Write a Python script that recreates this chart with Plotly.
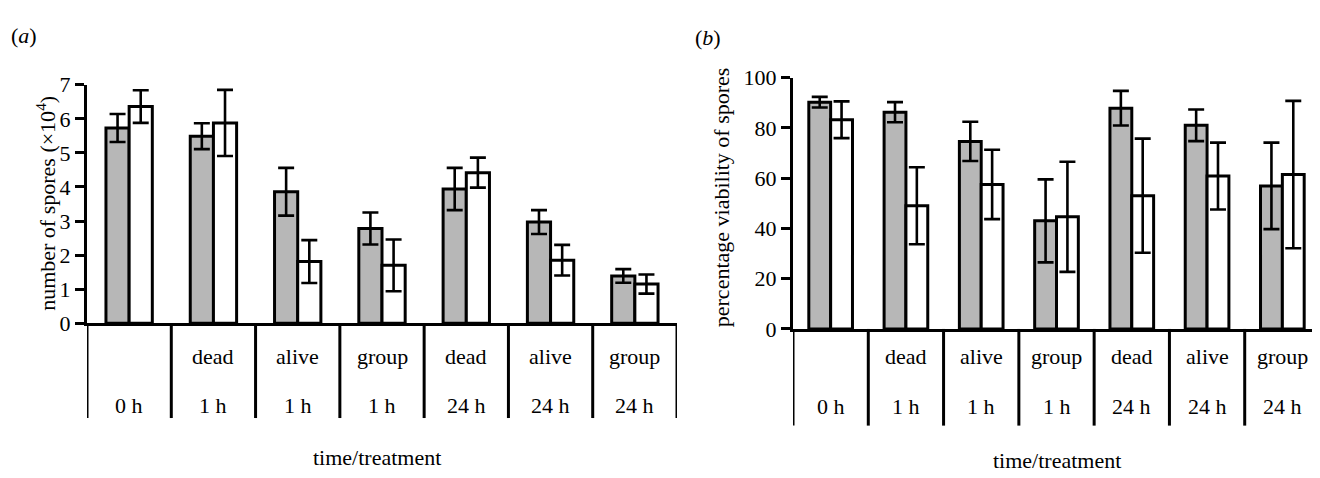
import plotly.graph_objects as go

# ---------------- data ----------------
cat_top = ["", "dead", "alive", "group", "dead", "alive", "group"]
cat_bottom = ["0 h", "1 h", "1 h", "1 h", "24 h", "24 h", "24 h"]

# panel (a): number of spores (x10^4)
spores_grey = [5.73, 5.49, 3.86, 2.78, 3.94, 2.97, 1.39]
spores_grey_err = [0.41, 0.38, 0.70, 0.47, 0.62, 0.35, 0.20]
spores_white = [6.36, 5.88, 1.81, 1.70, 4.42, 1.85, 1.15]
spores_white_err = [0.48, 0.97, 0.63, 0.76, 0.44, 0.45, 0.28]

# panel (b): percentage viability of spores
viab_grey = [90.2, 86.2, 74.6, 43.0, 87.8, 81.0, 56.9]
viab_grey_err = [2.1, 4.0, 7.8, 16.5, 6.9, 6.3, 17.2]
viab_white = [83.2, 49.0, 57.5, 44.6, 53.0, 60.8, 61.4]
viab_white_err = [7.3, 15.3, 13.8, 21.9, 22.7, 13.3, 29.3]

FONT = "Liberation Serif, Times New Roman, Times, serif"
FS = 22
W, H = 1320, 478
GREY = "#b7b7b7"
LW = 3

xpos = [i + 0.5 for i in range(len(cat_bottom))]

fig = go.Figure()


def add_pair(grey, grey_err, white, white_err, bw, xa, ya):
    fig.add_trace(go.Bar(
        x=xpos, y=grey, width=bw, offset=-bw, xaxis=xa, yaxis=ya,
        marker=dict(color=GREY, line=dict(color="black", width=LW)),
        error_y=dict(type="data", array=grey_err, color="black", thickness=2.6, width=8),
        showlegend=False))
    fig.add_trace(go.Bar(
        x=xpos, y=white, width=bw, offset=0, xaxis=xa, yaxis=ya,
        marker=dict(color="white", line=dict(color="black", width=LW)),
        error_y=dict(type="data", array=white_err, color="black", thickness=2.6, width=8),
        showlegend=False))


add_pair(spores_grey, spores_grey_err, spores_white, spores_white_err, 0.275, "x", "y")
add_pair(viab_grey, viab_grey_err, viab_white, viab_white_err, 0.29, "x2", "y2")

# panel geometry in pixels
L = dict(x0=79, x1=669, ybase=320, ytop=68.3, lines_bottom=420, row1=355, row2=407,
         xlabel=(369, 462), ytitle=(38, 194), panel=(16, 16))
R = dict(x0=785, x1=1312, ybase=326, ytop=60.7, lines_bottom=428, row1=355, row2=408,
         xlabel=(1049, 465), ytitle=(713, 187), panel=(700, 18))


def px(x):
    return x / W


def py(y):
    return (H - y) / H


line_common = dict(showgrid=False, zeroline=False, showline=True, linecolor="black",
                   linewidth=LW, tickcolor="black", tickwidth=LW)
tickfont = dict(family=FONT, size=FS, color="black")

fig.update_layout(
    width=W, height=H, margin=dict(l=0, r=0, t=0, b=0, pad=0),
    plot_bgcolor="white", paper_bgcolor="white", barmode="overlay",
    font=dict(family=FONT, size=FS, color="black"),
    xaxis=dict(domain=[px(L["x0"]), px(L["x1"])], range=[0, 7], showticklabels=False,
               ticks="", anchor="y", **line_common),
    yaxis=dict(domain=[py(L["ybase"]), py(L["ytop"])], range=[0, 7], dtick=1,
               ticks="outside", ticklen=9, anchor="x", tickfont=tickfont, **line_common),
    xaxis2=dict(domain=[px(R["x0"]), px(R["x1"])], range=[0, 7], showticklabels=False,
                ticks="", anchor="y2", **line_common),
    yaxis2=dict(domain=[py(R["ybase"]), py(R["ytop"])], range=[0, 100], dtick=20,
                ticks="outside", ticklen=9, anchor="x2", tickfont=tickfont, **line_common),
)

shapes = []
annotations = []
for P, xr, title, plabel in [(L, "x", "number of spores (×10<sup>4</sup>)", "(<i>a</i>)"),
                             (R, "x2", "percentage viability of spores", "(<i>b</i>)")]:
    for k in range(len(cat_bottom) + 1):
        shapes.append(dict(type="line", xref=xr, yref="paper", x0=k, x1=k,
                           y0=py(P["ybase"]), y1=py(P["lines_bottom"]),
                           line=dict(color="black", width=LW)))
    for i, (t, b) in enumerate(zip(cat_top, cat_bottom)):
        if t:
            annotations.append(dict(text=t, xref=xr, yref="paper", x=xpos[i], y=py(P["row1"]),
                                    showarrow=False, xanchor="center", yanchor="middle",
                                    font=dict(family=FONT, size=FS)))
        annotations.append(dict(text=b, xref=xr, yref="paper", x=xpos[i], y=py(P["row2"]),
                                showarrow=False, xanchor="center", yanchor="middle",
                                font=dict(family=FONT, size=FS)))
    annotations.append(dict(text="time/treatment", xref="paper", yref="paper",
                            x=px(P["xlabel"][0]), y=py(P["xlabel"][1]), showarrow=False,
                            xanchor="center", yanchor="middle", font=dict(family=FONT, size=FS)))
    annotations.append(dict(text=title, xref="paper", yref="paper", textangle=-90,
                            x=px(P["ytitle"][0]), y=py(P["ytitle"][1]), showarrow=False,
                            xanchor="center", yanchor="middle", font=dict(family=FONT, size=FS)))
    annotations.append(dict(text=plabel, xref="paper", yref="paper",
                            x=px(P["panel"][0]), y=py(P["panel"][1]), showarrow=False,
                            xanchor="center", yanchor="middle", font=dict(family=FONT, size=FS)))

fig.update_layout(shapes=shapes, annotations=annotations)
fig.write_html("out.html")
